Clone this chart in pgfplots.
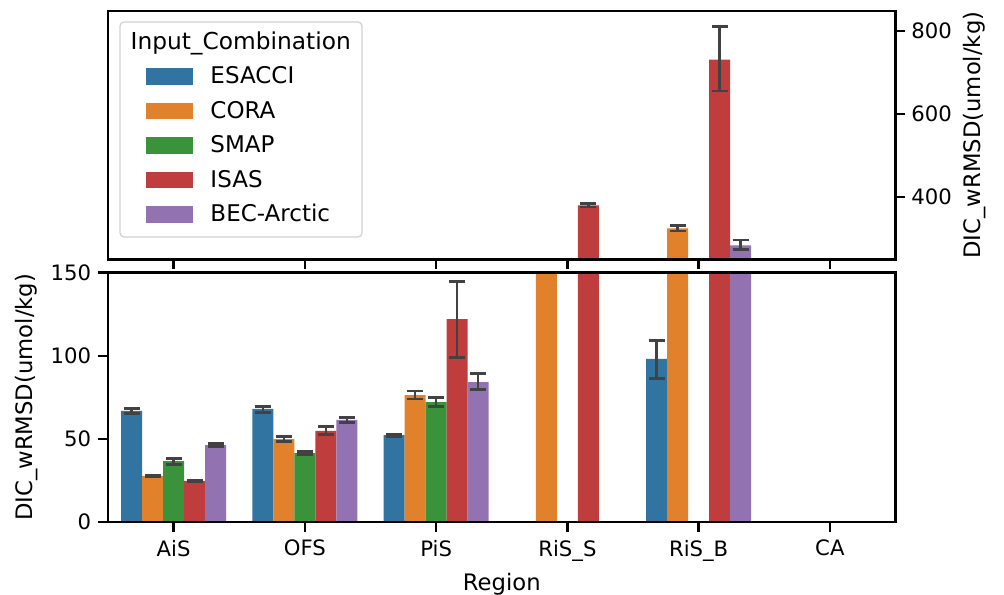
\documentclass[border=0pt]{standalone}
\usepackage{pgfplots}
\pgfplotsset{compat=1.18}
\usepackage{fontspec}
\setmainfont{DejaVu Sans}
\definecolor{cB}{HTML}{3274A1}
\definecolor{cO}{HTML}{E1812C}
\definecolor{cG}{HTML}{3A923A}
\definecolor{cR}{HTML}{C03D3E}
\definecolor{cP}{HTML}{9372B2}
\definecolor{eb}{HTML}{424242}
\pgfplotsset{
  base/.style={scale only axis, width=393.75pt, xmin=-0.5, xmax=5.5,
    ybar, bar width=0.16, xtick={0,1,2,3,4,5}, tick align=outside,
    major tick length=4.75pt, tick style={line width=1.25pt, black},
    axis line style={line width=1.3pt},
    ticklabel style={font=\fontsize{10.6}{12}\selectfont, inner sep=0pt},
    /pgf/number format/assume math mode=true,
    label style={font=\fontsize{11.35}{13}\selectfont, inner sep=0pt},
    axis on top, clip=true},
  err/.style={error bars/.cd, y dir=both, y explicit,
    error bar style={line width=1.25pt, color=eb},
    error mark options={rotate=90, mark size=4pt, line width=1.25pt, color=eb}}
}
\begin{document}
\begin{tikzpicture}[x=1pt,y=1pt]
\useasboundingbox (0,0) rectangle (502,297);
\draw[rounded corners=2pt, draw=black!18, fill=white, line width=0.6pt] (60,178.5) rectangle (181,286);
\node[anchor=base, inner sep=0pt, font=\fontsize{11.65}{13}\selectfont] at (120.35,272.35) {Input\_Combination};
% bottom axis
\begin{axis}[base, at={(54pt,36pt)}, anchor=south west, height=124.65pt,
  ymin=0, ymax=150, ytick={0,50,100,150},
  xticklabels={AiS,OFS,PiS,RiS\_S,RiS\_B,CA},
  xtick pos=left, ytick pos=left,
  xticklabel shift=4pt, yticklabel shift=3.5pt,
  xlabel={Region}, ylabel={DIC\_wRMSD(umol/kg)},
  xlabel style={at={(axis description cs:0.5,-0.27277)}, anchor=base},
  ylabel style={at={(axis description cs:-0.09613,0.5)}, anchor=base}]
\addplot[fill=cB, draw=none, bar shift=-0.32, err] coordinates {
 (0,66.8) += (0,1.6) -= (0,1.4)
 (1,68.0) += (0,1.4) -= (0,2.2)
 (2,52.3) += (0,0.8) -= (0,0.8)
 (4,98.1) += (0,11.2) -= (0,11.7)};
\addplot[fill=cO, draw=none, bar shift=-0.16, err] coordinates {
 (0,27.7) += (0,0.5) -= (0,0.5)
 (1,49.9) += (0,1.6) -= (0,1.6)
 (2,76.4) += (0,2.4) -= (0,2.4)
 (3,220) += (0,3) -= (0,3)
 (4,324.6) += (0,6.5) -= (0,6.5)};
\addplot[fill=cG, draw=none, bar shift=0, err] coordinates {
 (0,36.7) += (0,1.6) -= (0,2.0)
 (1,41.5) += (0,0.8) -= (0,0.8)
 (2,72.2) += (0,2.8) -= (0,2.6)};
\addplot[fill=cR, draw=none, bar shift=0.16, err] coordinates {
 (0,24.7) += (0,0.7) -= (0,0.7)
 (1,54.8) += (0,2.6) -= (0,2.0)
 (2,122.1) += (0,22.7) -= (0,23.0)
 (3,380) += (0,4.5) -= (0,4.5)
 (4,731) += (0,80) -= (0,76)};
\addplot[fill=cP, draw=none, bar shift=0.32, err] coordinates {
 (0,46.3) += (0,1.0) -= (0,1.0)
 (1,61.4) += (0,1.6) -= (0,1.6)
 (2,84.2) += (0,5.3) -= (0,4.4)
 (4,283.4) += (0,13.0) -= (0,10.0)};
\end{axis}
% top axis
\begin{axis}[base, at={(54pt,167.35pt)}, anchor=south west, height=124.15pt,
  ymin=250, ymax=848, ytick={400,600,800},
  xticklabels={}, xtick pos=left, ytick pos=right, yticklabel pos=right,
  yticklabel shift=3pt,
  ylabel={DIC\_wRMSD(umol/kg)},
  ylabel style={at={(axis description cs:1.10730,0.5)}, anchor=base},
  legend image code/.code={\fill[#1] (0pt,-4.175pt) rectangle (23.5pt,4.175pt);},
  legend cell align=left,
  legend style={at={(axis description cs:0.04825,0.7690)}, anchor=north west,
    draw=none, fill=none, inner sep=0pt, outer sep=0pt, row sep=8.85pt, column sep=8.75pt,
    font=\fontsize{11.5}{13}\selectfont,
    nodes={inner sep=0pt, text height=0.73em, text depth=0pt}}]
\addplot[fill=cB, draw=none, bar shift=-0.32, err] coordinates {
 (0,66.8) += (0,1.6) -= (0,1.4)
 (1,68.0) += (0,1.4) -= (0,2.2)
 (2,52.3) += (0,0.8) -= (0,0.8)
 (4,98.1) += (0,11.2) -= (0,11.7)};
\addlegendentry{ESACCI}
\addplot[fill=cO, draw=none, bar shift=-0.16, err] coordinates {
 (0,27.7) += (0,0.5) -= (0,0.5)
 (1,49.9) += (0,1.6) -= (0,1.6)
 (2,76.4) += (0,2.4) -= (0,2.4)
 (3,220) += (0,3) -= (0,3)
 (4,324.6) += (0,6.5) -= (0,6.5)};
\addlegendentry{CORA}
\addplot[fill=cG, draw=none, bar shift=0, err] coordinates {
 (0,36.7) += (0,1.6) -= (0,2.0)
 (1,41.5) += (0,0.8) -= (0,0.8)
 (2,72.2) += (0,2.8) -= (0,2.6)};
\addlegendentry{SMAP}
\addplot[fill=cR, draw=none, bar shift=0.16, err] coordinates {
 (0,24.7) += (0,0.7) -= (0,0.7)
 (1,54.8) += (0,2.6) -= (0,2.0)
 (2,122.1) += (0,22.7) -= (0,23.0)
 (3,380) += (0,4.5) -= (0,4.5)
 (4,731) += (0,80) -= (0,76)};
\addlegendentry{ISAS}
\addplot[fill=cP, draw=none, bar shift=0.32, err] coordinates {
 (0,46.3) += (0,1.0) -= (0,1.0)
 (1,61.4) += (0,1.6) -= (0,1.6)
 (2,84.2) += (0,5.3) -= (0,4.4)
 (4,283.4) += (0,13.0) -= (0,10.0)};
\addlegendentry{BEC-Arctic}
\end{axis}
\end{tikzpicture}
\end{document}
